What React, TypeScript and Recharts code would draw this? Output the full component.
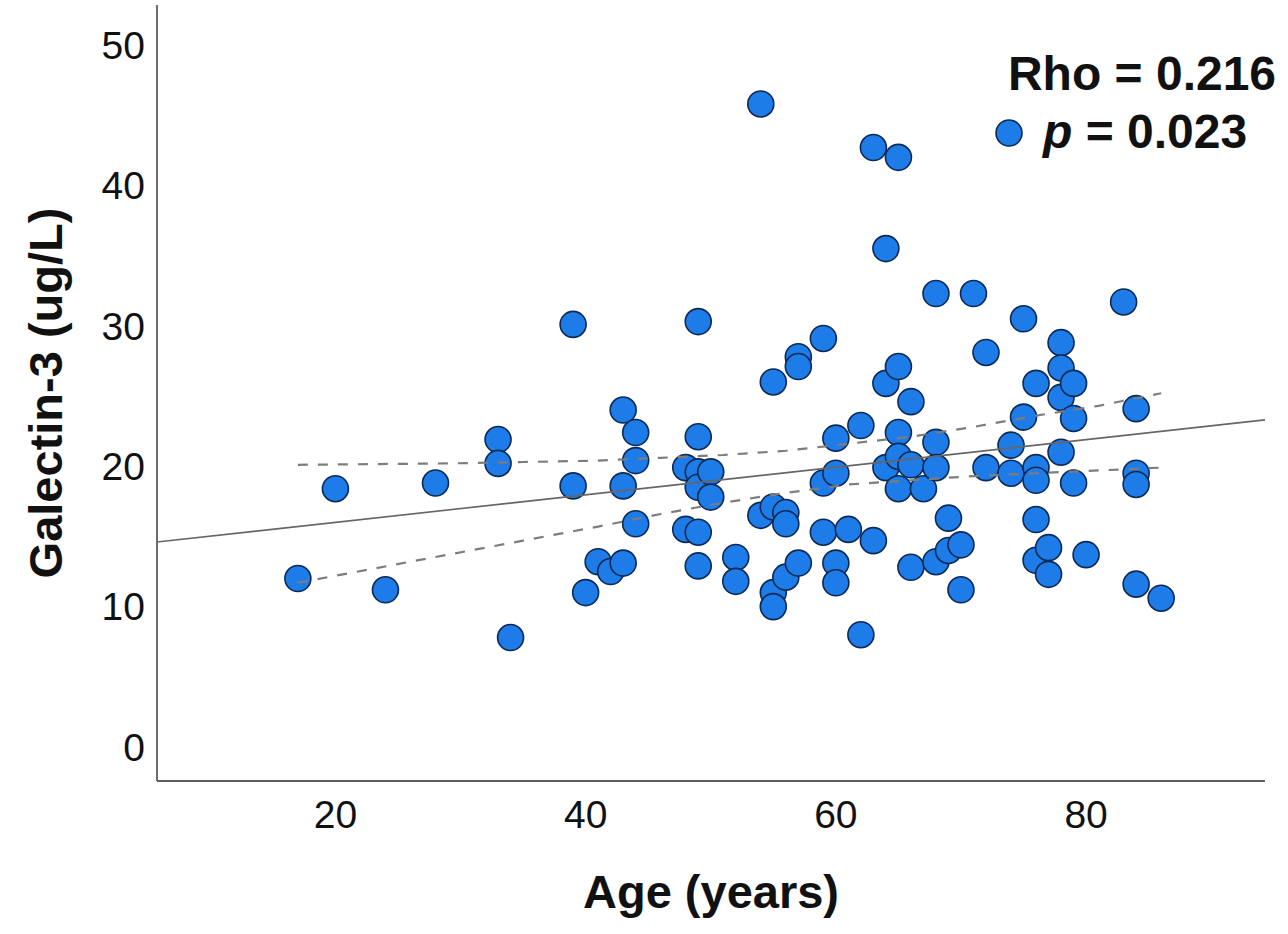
import React from 'react';
import { ScatterChart, Scatter, XAxis, YAxis, Customized } from 'recharts';

// Observed points: age (years) and Galectin-3 (ug/L)
const ages = [
  17, 20, 24, 28, 33, 33, 34, 39, 39, 40, 41, 42, 43, 43, 43, 44, 44, 44,
  48, 48, 49, 49, 49, 49, 49, 49, 50, 50, 52, 52, 54, 54, 55, 55, 55, 55,
  56, 56, 56, 57, 57, 57, 59, 59, 59, 60, 60, 60, 60, 61, 62, 62, 63, 63,
  64, 64, 64, 65, 65, 65, 65, 65, 66, 66, 66, 67, 68, 68, 68, 68, 69, 69,
  70, 70, 71, 72, 72, 74, 74, 75, 75, 76, 76, 76, 76, 76, 77, 77, 78, 78,
  78, 78, 79, 79, 79, 80, 83, 84, 84, 84, 84, 86,
];
const galectin = [
  12.0, 18.4, 11.2, 18.8, 21.9, 20.2, 7.8, 30.1, 18.6, 11.0, 13.2, 12.5, 13.1, 24.0, 18.6, 22.4, 20.4, 15.9,
  19.9, 15.5, 30.3, 22.1, 19.6, 18.5, 15.3, 12.9, 19.6, 17.8, 13.5, 11.8, 45.8, 16.5, 26.0, 17.1, 11.0, 10.0,
  16.7, 15.9, 12.1, 27.8, 27.1, 13.1, 29.1, 18.8, 15.3, 22.0, 19.5, 13.1, 11.7, 15.5, 22.9, 8.0, 14.7, 42.7,
  35.5, 25.9, 19.9, 42.0, 27.1, 22.4, 20.7, 18.4, 24.6, 20.1, 12.8, 18.4, 32.3, 21.7, 19.9, 13.2, 16.3, 14.0,
  14.4, 11.2, 32.3, 28.1, 19.9, 21.5, 19.5, 30.5, 23.5, 25.9, 19.9, 19.0, 16.2, 13.3, 14.2, 12.3, 28.8, 27.0,
  24.9, 21.0, 25.9, 23.4, 18.8, 13.7, 31.7, 24.1, 19.5, 18.7, 11.6, 10.6,
];

// Fit line (read at the plot edges)
const fitAges = [5.74, 94.3];
const fitValues = [14.6, 23.3];

// Confidence band curves
const ciAges = [17, 23, 29, 35, 41, 46, 51, 56, 61, 66, 71, 76, 81, 86];
const ciUpper = [20.1, 20.15, 20.2, 20.3, 20.4, 20.6, 20.8, 21.1, 21.6, 22.1, 22.8, 23.6, 24.3, 25.2];
const ciLower = [11.7, 12.7, 13.7, 14.7, 15.7, 16.6, 17.4, 18.1, 18.7, 19.0, 19.3, 19.5, 19.7, 19.9];

const xTicks = [20, 40, 60, 80];
const yTicks = [0, 10, 20, 30, 40, 50];

const rhoText = 'Rho = 0.216';
const pValueText = ' = 0.023';

const FONT = '"Liberation Sans", Arial, Helvetica, sans-serif';
const POINT_FILL = '#1d7ce8';
const POINT_STROKE = '#0c2a55';

const points = ages.map((a, i) => ({ x: a, y: galectin[i] }));
const fitData = fitAges.map((a, i) => ({ x: a, y: fitValues[i] }));
const upperData = ciAges.map((a, i) => ({ x: a, y: ciUpper[i] }));
const lowerData = ciAges.map((a, i) => ({ x: a, y: ciLower[i] }));

const Dot = (props: any) => {
  const { cx, cy } = props;
  if (cx == null || cy == null) return <g />;
  return <circle cx={cx} cy={cy} r={13} fill={POINT_FILL} stroke={POINT_STROKE} strokeWidth={1.6} />;
};

const NoShape = () => <g />;

const YTitle = (props: any) => {
  const vb = props.viewBox || {};
  const cy = vb.y + vb.height / 2;
  const cx = vb.x - 12;
  return (
    <text
      x={cx}
      y={cy}
      transform={`rotate(-90 ${cx} ${cy})`}
      textAnchor="middle"
      dominantBaseline="central"
      fontFamily={FONT}
      fontWeight="bold"
      fontSize={47}
      fill="#111"
    >
      Galectin-3 (ug/L)
    </text>
  );
};

const XTitle = (props: any) => {
  const vb = props.viewBox || {};
  const cx = vb.x + vb.width / 2;
  return (
    <text x={cx} y={vb.y + 127} textAnchor="middle" fontFamily={FONT} fontWeight="bold" fontSize={47} fill="#111">
      Age (years)
    </text>
  );
};

const Annotation = () => (
  <g>
    <text x={1142} y={90} textAnchor="middle" fontFamily={FONT} fontWeight="bold" fontSize={48} fill="#111">
      {rhoText}
    </text>
    <circle cx={1009} cy={133} r={13} fill={POINT_FILL} stroke={POINT_STROKE} strokeWidth={1.6} />
    <text x={1043} y={148} textAnchor="start" fontFamily={FONT} fontWeight="bold" fontSize={48} fill="#111">
      <tspan fontStyle="italic">p</tspan>
      <tspan>{pValueText}</tspan>
    </text>
  </g>
);

export default function App() {
  return (
    <div style={{ position: 'absolute', left: 0, top: 0, width: 1288, height: 934, background: '#fff' }}>
      <ScatterChart width={1288} height={934} margin={{ top: 5, right: 23, bottom: 33, left: 57 }}>
        <XAxis
          type="number"
          dataKey="x"
          domain={[5.74, 94.3]}
          ticks={xTicks}
          allowDataOverflow
          height={120}
          tickLine={false}
          tickSize={0}
          tickMargin={19}
          axisLine={{ stroke: '#5e5e5e', strokeWidth: 1.8 }}
          tick={{ fill: '#111', fontSize: 39, fontFamily: FONT }}
          label={<XTitle />}
        />
        <YAxis
          type="number"
          dataKey="y"
          domain={[-2.42, 52.85]}
          ticks={yTicks}
          allowDataOverflow
          width={100}
          tickLine={false}
          tickSize={0}
          tickMargin={12}
          axisLine={{ stroke: '#5e5e5e', strokeWidth: 1.8 }}
          tick={{ fill: '#111', fontSize: 39, fontFamily: FONT }}
          label={<YTitle />}
        />
        <Scatter data={points} shape={Dot} isAnimationActive={false} />
        <Scatter
          data={fitData}
          shape={NoShape}
          line={{ stroke: '#666', strokeWidth: 1.6 }}
          isAnimationActive={false}
        />
        <Scatter
          data={upperData}
          shape={NoShape}
          line={{ stroke: '#7d7d7d', strokeWidth: 2.2, strokeDasharray: '10 10' }}
          isAnimationActive={false}
        />
        <Scatter
          data={lowerData}
          shape={NoShape}
          line={{ stroke: '#7d7d7d', strokeWidth: 2.2, strokeDasharray: '10 10' }}
          isAnimationActive={false}
        />
        <Customized component={Annotation} />
      </ScatterChart>
    </div>
  );
}
